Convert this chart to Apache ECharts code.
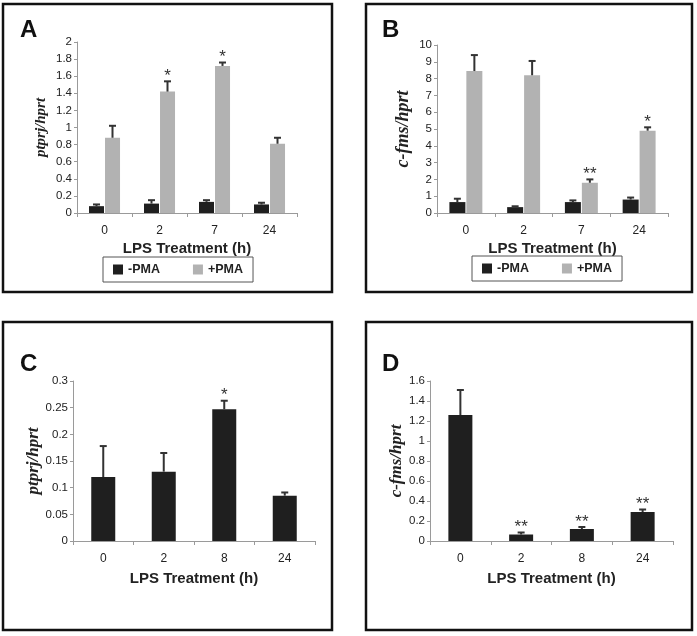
<!DOCTYPE html>
<html><head><meta charset="utf-8">
<script src="https://cdn.jsdelivr.net/npm/echarts@6/dist/echarts.min.js"></script>
<style>html,body{margin:0;padding:0;background:#fff}#c{width:697px;height:636px}</style>
</head><body><div id="c"></div>
<script>
// ---- data ----
const catsAB = ['0', '2', '7', '24'];
const catsCD = ['0', '2', '8', '24'];
const legendNames = ['-PMA', '+PMA'];

const aMinus = [0.08, 0.11, 0.13, 0.10];
const aMinusErr = [0.02, 0.04, 0.02, 0.02];
const aPlus = [0.88, 1.42, 1.72, 0.81];
const aPlusErr = [0.14, 0.12, 0.04, 0.07];
const aPlusStars = ['', '*', '*', ''];

const bMinus = [0.65, 0.35, 0.65, 0.80];
const bMinusErr = [0.20, 0.05, 0.10, 0.12];
const bPlus = [8.45, 8.20, 1.80, 4.90];
const bPlusErr = [0.95, 0.85, 0.20, 0.20];
const bPlusStars = ['', '', '**', '*'];

const cVals = [0.120, 0.130, 0.247, 0.085];
const cErr = [0.058, 0.035, 0.016, 0.006];
const cStars = ['', '', '*', ''];

const dVals = [1.26, 0.065, 0.12, 0.29];
const dErr = [0.25, 0.02, 0.02, 0.025];
const dStars = ['', '**', '**', '**'];

const yRangeA = [0, 2, 0.2];
const yRangeB = [0, 10, 1];
const yRangeC = [0, 0.3, 0.05];
const yRangeD = [0, 1.6, 0.2];

const panelLetters = ['A', 'B', 'C', 'D'];
const yNames = ['ptprj/hprt', 'c-fms/hprt', 'ptprj/hprt', 'c-fms/hprt'];
const xName = 'LPS Treatment (h)';

// ---- styling ----
const BLACK = '#1f1f1f', GRAY = '#b2b2b2', AX = '#9a9a9a', TXT = '#222';
const SANS = '"Liberation Sans", Arial, sans-serif';

const grids = [
  {left: 77, top: 42, width: 220, height: 171},
  {left: 437, top: 45, width: 231, height: 168},
  {left: 73, top: 381, width: 242, height: 160},
  {left: 430, top: 381, width: 243, height: 160}
];

function xAxis(i, cats, gap) {
  return {
    type: 'category', gridIndex: i, data: cats, boundaryGap: true,
    axisLine: {lineStyle: {color: AX, width: 1}},
    axisTick: {show: true, length: 4, lineStyle: {color: AX}},
    axisLabel: {color: TXT, fontFamily: SANS, fontSize: 12, margin: 12},
    name: xName, nameLocation: 'middle', nameGap: gap,
    nameTextStyle: {color: TXT, fontFamily: SANS, fontSize: 15, fontWeight: 'bold'}
  };
}
function fmt(v) { return String(+v.toFixed(3)); }
function yAxis(i, r, name, gap, fs) {
  return {
    type: 'value', gridIndex: i, min: r[0], max: r[1], interval: r[2],
    axisLine: {show: true, lineStyle: {color: AX, width: 1}},
    axisTick: {show: true, length: 3, lineStyle: {color: AX}},
    splitLine: {show: false},
    axisLabel: {color: TXT, fontFamily: SANS, fontSize: 11.5, margin: 5, formatter: fmt},
    name: name, nameLocation: 'middle', nameGap: gap, nameRotate: 90,
    nameTextStyle: {color: TXT, fontFamily: '"Liberation Serif", "DejaVu Serif", serif', fontStyle: 'italic', fontWeight: 'bold', fontSize: fs}
  };
}

function errSeries(idx, vals, errs, stars, offset) {
  return {
    type: 'custom', xAxisIndex: idx, yAxisIndex: idx, clip: false, z: 5, silent: true,
    data: vals.map((v, i) => [i, v, errs[i]]),
    encode: {x: 0, y: 1},
    renderItem(params, api) {
      const i = api.value(0), v = api.value(1), e = api.value(2);
      const top = api.coord([i, v + e]);
      const base = api.coord([i, v]);
      const x = top[0] + offset;
      const children = [
        {type: 'line', shape: {x1: x, y1: base[1], x2: x, y2: top[1]}, style: {stroke: '#333', lineWidth: 2}},
        {type: 'line', shape: {x1: x - 3.5, y1: top[1], x2: x + 3.5, y2: top[1]}, style: {stroke: '#333', lineWidth: 2}}
      ];
      const s = stars ? stars[params.dataIndex] : '';
      if (s) {
        children.push({type: 'text', style: {text: s, x: x, y: top[1] - 5, align: 'center', verticalAlign: 'middle',
          font: '17px ' + SANS, fill: '#333'}});
      }
      return {type: 'group', children: children};
    }
  };
}
function barSeries(idx, name, vals, color, width, gap) {
  return {type: 'bar', name: name, xAxisIndex: idx, yAxisIndex: idx, data: vals,
    barWidth: width, barGap: gap, itemStyle: {color: color}, silent: true};
}

const series = [
  barSeries(0, '-PMA', aMinus, BLACK, 15, '7%'),
  barSeries(0, '+PMA', aPlus, GRAY, 15, '7%'),
  errSeries(0, aMinus, aMinusErr, null, -8),
  errSeries(0, aPlus, aPlusErr, aPlusStars, 8),
  barSeries(1, '-PMA', bMinus, BLACK, 16, '6%'),
  barSeries(1, '+PMA', bPlus, GRAY, 16, '6%'),
  errSeries(1, bMinus, bMinusErr, null, -8.5),
  errSeries(1, bPlus, bPlusErr, bPlusStars, 8.5),
  barSeries(2, 'C', cVals, BLACK, 24, '0%'),
  errSeries(2, cVals, cErr, cStars, 0),
  barSeries(3, 'D', dVals, BLACK, 24, '0%'),
  errSeries(3, dVals, dErr, dStars, 0)
];

const boxes = [[3, 4, 329, 288], [366, 4, 326, 288], [3, 322, 329, 308], [366, 322, 326, 308]];
const letterPos = [[20, 18], [382, 18], [20, 352], [382, 352]];
const graphic = [];
boxes.forEach(b => graphic.push({type: 'rect', shape: {x: b[0], y: b[1], width: b[2], height: b[3]},
  style: {fill: 'none', stroke: '#111', lineWidth: 2.5}, silent: true, z: 100}));
panelLetters.forEach((t, i) => graphic.push({type: 'text', x: letterPos[i][0], y: letterPos[i][1],
  style: {text: t, font: 'bold 24px ' + SANS, fill: '#111'}, z: 100}));

function legend(left, top) {
  return {data: legendNames, left: left, top: top, orient: 'horizontal', itemWidth: 10, itemHeight: 10,
    itemGap: 33, padding: [6, 10, 6, 10], borderColor: '#555', borderWidth: 1, selectedMode: false,
    icon: 'rect', textStyle: {color: TXT, fontFamily: SANS, fontSize: 12.5, fontWeight: 'bold'}};
}

const chart = echarts.init(document.getElementById('c'), null, {renderer: 'canvas'});
chart.setOption({
  animation: false,
  backgroundColor: '#fff',
  grid: grids,
  xAxis: [xAxis(0, catsAB, 28), xAxis(1, catsAB, 28), xAxis(2, catsCD, 30), xAxis(3, catsCD, 30)],
  yAxis: [yAxis(0, yRangeA, yNames[0], 28, 15), yAxis(1, yRangeB, yNames[1], 25, 18),
          yAxis(2, yRangeC, yNames[2], 28, 17), yAxis(3, yRangeD, yNames[3], 25, 17)],
  legend: [legend(103, 257), legend(472, 256)],
  series: series,
  graphic: graphic
});
</script></body></html>
